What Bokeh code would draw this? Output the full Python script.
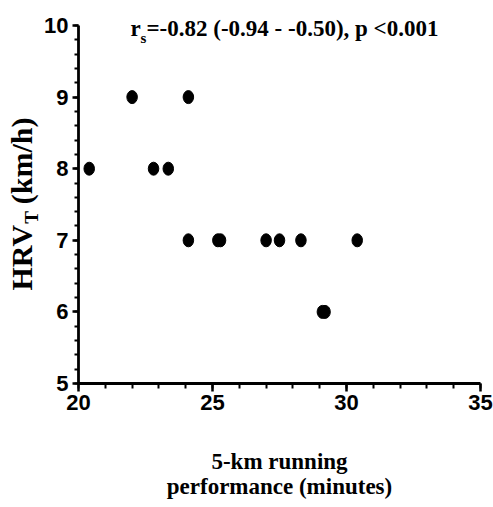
import math
from bokeh.plotting import figure
from bokeh.models import Label, SingleIntervalTicker
from bokeh.embed import file_html
from bokeh.resources import INLINE

# 5-km running time (minutes) and HRV threshold speed (km/h)
run_time = [22.0, 24.1, 20.4, 22.8, 23.35, 24.1, 25.2, 25.3, 27.0, 27.5, 28.3, 30.4, 29.1, 29.2]
hrv_speed = [9, 9, 8, 8, 8, 7, 7, 7, 7, 7, 7, 7, 6, 6]

x_ticks_interval = 5
y_ticks_interval = 1

W, H = 493, 507
# pixel box of the axes inside the canvas
AX_L, AX_R, AX_T, AX_B = 78, 480, 25, 383
X0, X1, Y0, Y1 = 20, 35, 5, 10

kx = (AX_R - AX_L) / (X1 - X0)      # px per minute
ky = (AX_B - AX_T) / (Y1 - Y0)      # px per km/h

# the frame spans the whole canvas; axes are pinned at x=20 and y=5
x_start = X0 - AX_L / kx
x_end = X1 + (W - AX_R) / kx
y_end = Y1 + AX_T / ky
y_start = Y0 - (H - AX_B) / ky

p = figure(width=W, height=H, x_range=(x_start, x_end), y_range=(y_start, y_end),
           output_backend="svg", toolbar_location=None,
           min_border_left=0, min_border_right=0,
           min_border_top=0, min_border_bottom=0)
p.outline_line_color = None
p.xgrid.visible = False
p.ygrid.visible = False
p.background_fill_color = "white"
p.border_fill_color = "white"

p.xaxis.ticker = SingleIntervalTicker(interval=x_ticks_interval, num_minor_ticks=5)
p.yaxis.ticker = SingleIntervalTicker(interval=y_ticks_interval, num_minor_ticks=5)
p.xaxis.fixed_location = Y0
p.yaxis.fixed_location = X0
p.xaxis.bounds = (X0, X1)
p.yaxis.bounds = (Y0, Y1)

tick_font = "'Liberation Sans Narrow', 'Liberation Sans', sans-serif"
for ax in (p.xaxis, p.yaxis):
    ax.axis_line_width = 2.8
    ax.axis_line_color = "black"
    ax.major_tick_line_width = 2.5
    ax.minor_tick_line_width = 2
    ax.major_tick_in = 0
    ax.minor_tick_in = 0
    ax.major_label_text_font = tick_font
    ax.major_label_text_font_style = "bold"
    ax.major_label_text_font_size = "22px"
    ax.major_label_text_color = "black"
p.xaxis.major_tick_out = 8
p.xaxis.minor_tick_out = 5
p.yaxis.major_tick_out = 6
p.yaxis.minor_tick_out = 4
p.xaxis.major_label_standoff = 3
p.yaxis.major_label_standoff = 4

p.ellipse(x=run_time, y=hrv_speed, width=10.5, height=13,
          width_units="screen", height_units="screen",
          fill_color="black", line_color="black")

serif = "'Liberation Serif', 'Times New Roman', serif"
BASE_FIX = 0.39                 # em shift from wanted baseline to label anchor

def dx(px):
    return x_start + px / kx
def dy(py):
    return y_end - py / ky

def put(text, px, py, size, **kw):
    p.add_layout(Label(x=dx(px), y=dy(py), text=text, text_font=serif,
                       text_font_style="bold", text_font_size=f"{size}px",
                       text_color="black", text_baseline="alphabetic", **kw))

# correlation annotation (baseline at 37 px, subscript lower and smaller)
put("r", 130, 37 - BASE_FIX * 23, 23, text_align="left")
put("s", 140, 43 - BASE_FIX * 15, 15, text_align="left")
put("=-0.82 (-0.94 - -0.50), p <0.001", 146, 37 - BASE_FIX * 23, 23, text_align="left")

# x-axis title on two lines
put("5-km running", 279, 470 - BASE_FIX * 23, 23, text_align="center")
put("performance (minutes)", 279, 495 - BASE_FIX * 23, 23, text_align="center")

# y-axis title, rotated, with subscript T
ang = math.pi / 2
YFS, SFS = 30, 19
hrv_len = (0.778 + 0.722 + 0.722) * YFS
put("HRV", 33 - BASE_FIX * YFS, 290, YFS, text_align="left", angle=ang)
put("T", 38 - BASE_FIX * SFS, 290 - hrv_len, SFS, text_align="left", angle=ang)
put("(km/h)", 33 - BASE_FIX * YFS, 117, YFS, text_align="right", angle=ang)

open("out.html", "w").write(file_html(p, INLINE))
